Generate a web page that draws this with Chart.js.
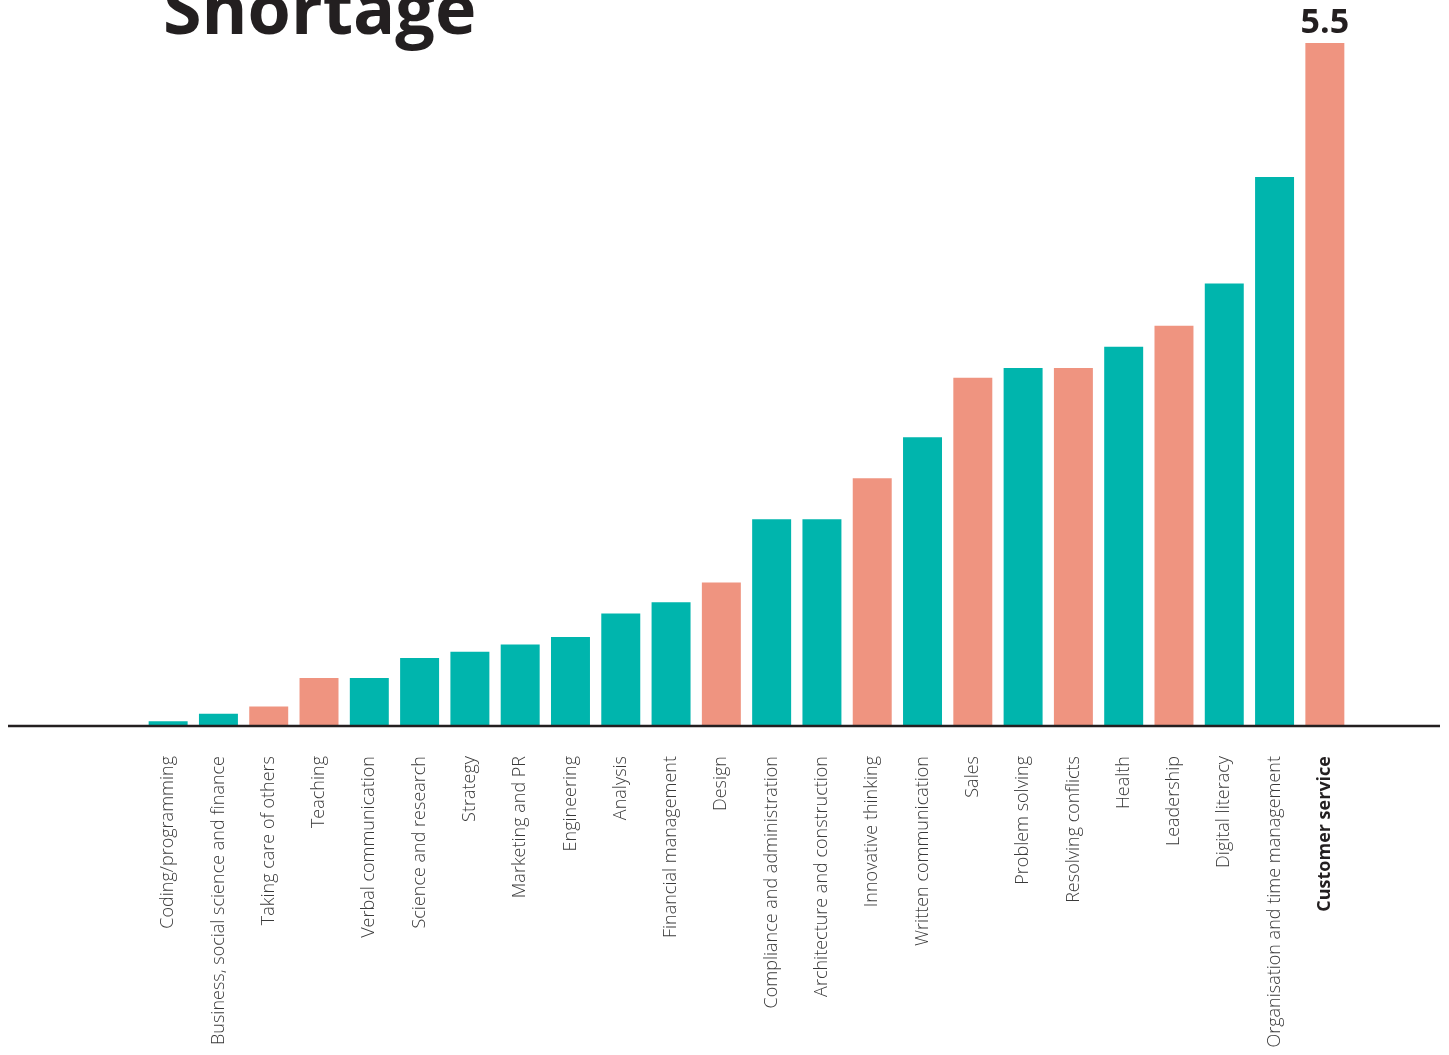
<!DOCTYPE html>
<html>
<head>
<meta charset="utf-8">
<script src="https://cdn.jsdelivr.net/npm/chart.js@4/dist/chart.umd.min.js"></script>
<style>
  html, body { margin:0; padding:0; background:#fff; overflow:hidden; }
  #wrap { position:relative; width:1449px; height:1055px; }
  #title {
    position:absolute; left:163px; top:-28px;
    font-family:"Open Sans", sans-serif; font-weight:700; font-size:70px;
    color:#231f20; line-height:1; white-space:nowrap;
  }
  canvas { position:absolute; left:0; top:0; }
</style>
</head>
<body>
<div id="wrap">
  <canvas id="chart" width="1449" height="1055"></canvas>
  <div id="title">Shortage</div>
</div>
<script>
/* =========================
   DATA
========================= */
const skills = [
  "Coding/programming",
  "Business, social science and finance",
  "Taking care of others",
  "Teaching",
  "Verbal communication",
  "Science and research",
  "Strategy",
  "Marketing and PR",
  "Engineering",
  "Analysis",
  "Financial management",
  "Design",
  "Compliance and administration",
  "Architecture and construction",
  "Innovative thinking",
  "Written communication",
  "Sales",
  "Problem solving",
  "Resolving conflicts",
  "Health",
  "Leadership",
  "Digital literacy",
  "Organisation and time management",
  "Customer service"
];

const shortage = [
  0.03, 0.09, 0.15, 0.38, 0.38, 0.54, 0.59, 0.65, 0.71, 0.90, 0.99, 1.15,
  1.66, 1.66, 1.99, 2.32, 2.80, 2.88, 2.88, 3.05, 3.22, 3.56, 4.42, 5.5
];

// t = teal, s = salmon
const groups = [
  "t","t","s","s","t","t","t","t","t","t","t","s",
  "t","t","s","t","s","t","s","t","s","t","t","s"
];

const highlight = "Customer service";

const TEAL = "#00b5ad";
const SALMON = "#ef9480";

/* =========================
   PLUGINS
========================= */
const baseline = {
  id: "baseline",
  afterDatasetsDraw(chart) {
    const ctx = chart.ctx;
    const y = chart.chartArea.bottom + 1;
    ctx.save();
    ctx.strokeStyle = "#231f20";
    ctx.lineWidth = 2.5;
    ctx.beginPath();
    ctx.moveTo(8, y);
    ctx.lineTo(1440, y);
    ctx.stroke();
    ctx.restore();
  }
};

const topLabel = {
  id: "topLabel",
  afterDatasetsDraw(chart) {
    const i = skills.indexOf(highlight);
    const bar = chart.getDatasetMeta(0).data[i];
    const ctx = chart.ctx;
    ctx.save();
    ctx.font = "700 34px 'Open Sans'";
    ctx.fillStyle = "#231f20";
    ctx.textAlign = "center";
    ctx.textBaseline = "alphabetic";
    ctx.fillText(String(shortage[i]), bar.x, bar.y - 10);
    ctx.restore();
  }
};

/* =========================
   CHART
========================= */
new Chart(document.getElementById("chart"), {
  type: "bar",
  data: {
    labels: skills,
    datasets: [{
      data: shortage,
      backgroundColor: groups.map(g => g === "t" ? TEAL : SALMON),
      categoryPercentage: 1,
      barPercentage: 0.775
    }]
  },
  options: {
    responsive: false,
    animation: false,
    layout: { padding: { left: 143, right: 99, top: 43, bottom: 0 } },
    plugins: {
      legend: { display: false },
      tooltip: { enabled: false }
    },
    scales: {
      y: {
        display: false,
        min: 0,
        max: 5.5
      },
      x: {
        grid: { display: false, drawTicks: false },
        border: { display: false },
        afterFit(scale) { scale.height = 330; },
        ticks: {
          autoSkip: false,
          minRotation: 90,
          maxRotation: 90,
          padding: 31,
          font: ctx => ({
            family: "'Open Sans'",
            size: 18,
            weight: skills[ctx.index] === highlight ? 700 : 300
          }),
          color: ctx => skills[ctx.index] === highlight ? "#231f20" : "#3a3a3a"
        }
      }
    }
  },
  plugins: [baseline, topLabel]
});
</script>
</body>
</html>
